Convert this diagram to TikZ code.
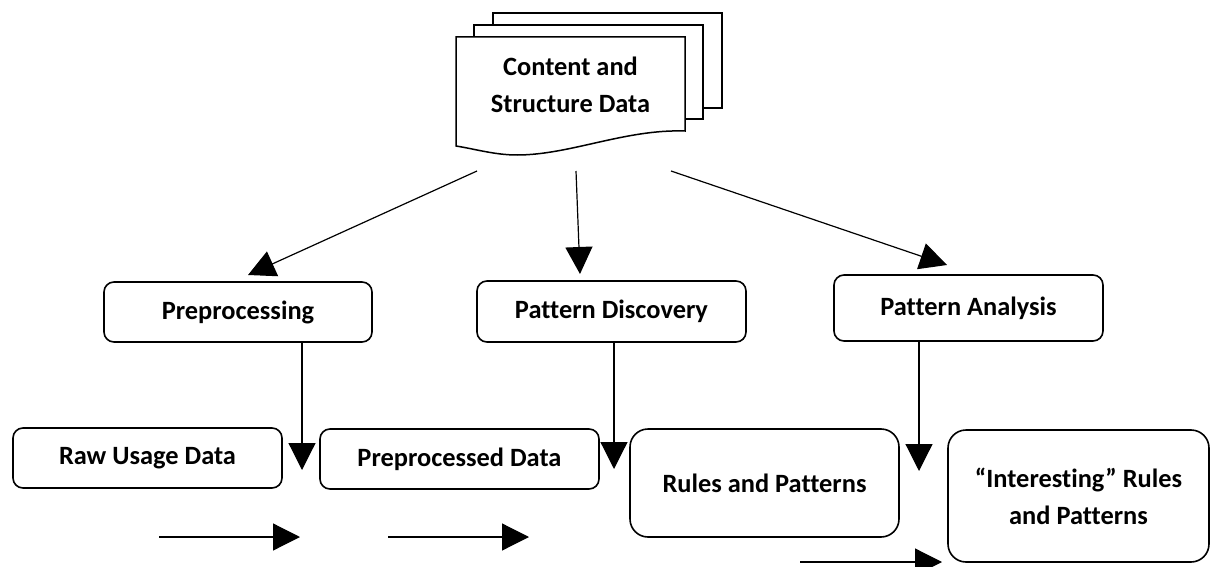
\documentclass[tikz,border=0pt]{standalone}
\usepackage{fontspec}
\setmainfont[Ligatures=NoCommon]{Carlito}
\usetikzlibrary{arrows.meta}
\begin{document}
\begin{tikzpicture}[x=0.5pt,y=-0.5pt,
  lbl/.style={font=\fontsize{13.2}{18.5}\selectfont\bfseries, align=center, inner sep=0pt},
  rbox/.style={draw, line width=0.8pt, rounded corners=5pt},
  bigbox/.style={draw, line width=0.8pt, rounded corners=9pt},
  page/.style={draw, line width=0.75pt, fill=white},
  arr/.style={line width=0.6pt, -{Triangle[length=13.5pt,width=13.5pt]}}]
\useasboundingbox (0,0) rectangle (1210,567);
% multi-document
\path[page] (493,13) -- (722,13) -- (722,108) -- (703,108) -- (703,25) -- (493,25) -- cycle;
\path[page] (474,25) -- (703,25) -- (703,119) -- (685,119) -- (685,37) -- (474,37) -- cycle;
\path[page] (456,37) -- (685,37) -- (685,131)
  .. controls (625,129) and (570,155) .. (517,155)
  .. controls (495,155) and (475,149) .. (456,146) -- cycle;
\node[lbl] (doc) at (570.5,85) {Content and\\Structure Data};
% boxes
\draw[rbox] (104,282) rectangle (372,342);
\node[lbl] (pre) at (238,312) {Preprocessing};
\draw[rbox] (477,281) rectangle (746,342);
\node[lbl] (disc) at (611.5,311.5) {Pattern Discovery};
\draw[rbox] (834,275) rectangle (1103,341);
\node[lbl] (ana) at (968.5,308) {Pattern Analysis};
\draw[rbox] (13,428) rectangle (282,488);
\node[lbl] (raw) at (147.5,458) {Raw Usage Data};
\draw[rbox] (320,429) rectangle (599,489);
\node[lbl] (ppd) at (459.5,459) {Preprocessed Data};
\draw[bigbox] (630,429) rectangle (899,537);
\node[lbl] (rules) at (764.5,483) {Rules and Patterns};
\draw[bigbox] (948,430) rectangle (1209,562);
\node[lbl] (int) at (1078.5,496.5) {“Interesting” Rules\\and Patterns};
% connector end points
\coordinate (d1) at (477,171); \coordinate (t1) at (248,275);
\coordinate (d2) at (576,171); \coordinate (t2) at (580,274);
\coordinate (d3) at (671,171); \coordinate (t3) at (947,265);
\coordinate (p1) at (302,342); \coordinate (q1) at (302,470);
\coordinate (p2) at (614,342); \coordinate (q2) at (614,469);
\coordinate (p3) at (919,341); \coordinate (q3) at (919,471);
\coordinate (h1) at (159,537); \coordinate (k1) at (300,537);
\coordinate (h2) at (388,537); \coordinate (k2) at (529,537);
\coordinate (h3) at (800,562); \coordinate (k3) at (942,562);
% arrows
\draw[arr] (d1) -- (t1);
\draw[arr] (d2) -- (t2);
\draw[arr] (d3) -- (t3);
\draw[arr] (p1) -- (q1);
\draw[arr] (p2) -- (q2);
\draw[arr] (p3) -- (q3);
\draw[arr] (h1) -- (k1);
\draw[arr] (h2) -- (k2);
\draw[arr] (h3) -- (k3);
\end{tikzpicture}
\end{document}
